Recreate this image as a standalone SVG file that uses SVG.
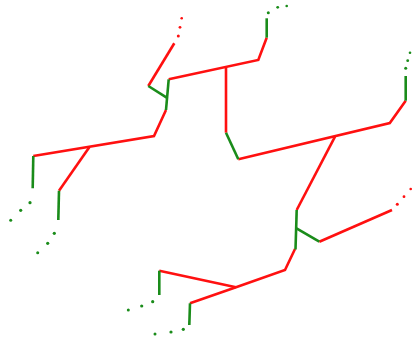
<svg xmlns="http://www.w3.org/2000/svg" width="412" height="341" viewBox="0 0 412 341">
<style>
.r{fill:none;stroke:#ff1010;stroke-width:2.6;stroke-linejoin:miter;stroke-linecap:butt}
.g{fill:none;stroke:#1a8c1a;stroke-width:2.6;stroke-linecap:butt}
.rd{fill:#ff1010}
.gd{fill:#1a8c1a}
</style>
<rect width="412" height="341" fill="#fff"/>
<g id="connectors">
<g id="red">
<polyline class="r" points="174.3,43.3 148.3,86"/>
<polyline class="r" points="168.7,79.3 258.3,60 266.7,37.7"/>
<polyline class="r" points="226,67.7 226,132.7"/>
<polyline class="r" points="166,110 154,136 33.3,156"/>
<polyline class="r" points="89.3,147.3 59,190.7"/>
<polyline class="r" points="238.3,159.3 389.8,123 405.7,100.7"/>
<polyline class="r" points="335,136.7 296.7,210"/>
<polyline class="r" points="319.3,241.7 392,210"/>
<polyline class="r" points="295,249 285,270 236,287.3 190,303.3"/>
<polyline class="r" points="159.3,270.7 236,287.3"/>
</g>
<g id="green">
<polyline class="g" points="148.3,86 166.7,97.7"/>
<polyline class="g" points="168.7,79.3 166,110"/>
<polyline class="g" points="266.7,37.7 266.7,18.3"/>
<polyline class="g" points="33.3,156 32.7,188.3"/>
<polyline class="g" points="59,190.7 58.3,220"/>
<polyline class="g" points="226,132.7 238.3,159.3"/>
<polyline class="g" points="405.7,100.7 405.7,76"/>
<polyline class="g" points="296.7,210 295.5,249.5"/>
<polyline class="g" points="296.5,228.3 319.3,241.7"/>
<polyline class="g" points="159.3,270.7 159.3,295"/>
<polyline class="g" points="190,303.3 189.3,325"/>
</g>
</g>
<g id="dots">
<g id="dots-red-top" class="rd"><circle cx="178.3" cy="36" r="1.5"/><circle cx="180" cy="27.3" r="1.4"/><circle cx="181.7" cy="18.3" r="1.3"/></g>
<g id="dots-green-top" class="gd"><circle cx="268.3" cy="12.7" r="1.5"/><circle cx="277.7" cy="7.3" r="1.4"/><circle cx="286.7" cy="6" r="1.3"/></g>
<g id="dots-green-right" class="gd"><circle cx="405.7" cy="68.3" r="1.5"/><circle cx="407.7" cy="60.7" r="1.4"/><circle cx="410" cy="52.7" r="1.3"/></g>
<g id="dots-red-right" class="rd"><circle cx="397.3" cy="204.3" r="1.5"/><circle cx="404" cy="196.7" r="1.4"/><circle cx="410.7" cy="189" r="1.3"/></g>
<g id="dots-green-left1" class="gd"><circle cx="30" cy="202.7" r="1.6"/><circle cx="20.7" cy="210.3" r="1.6"/><circle cx="10.7" cy="220.3" r="1.5"/></g>
<g id="dots-green-left2" class="gd"><circle cx="54.3" cy="233.3" r="1.6"/><circle cx="47.7" cy="243.3" r="1.6"/><circle cx="37.7" cy="252.7" r="1.5"/></g>
<g id="dots-green-bottom1" class="gd"><circle cx="152.7" cy="301.7" r="1.6"/><circle cx="141.7" cy="306" r="1.6"/><circle cx="128.3" cy="310" r="1.5"/></g>
<g id="dots-green-bottom2" class="gd"><circle cx="183.3" cy="329.3" r="1.6"/><circle cx="171" cy="332" r="1.6"/><circle cx="155" cy="334" r="1.5"/></g>
</g>
</svg>
